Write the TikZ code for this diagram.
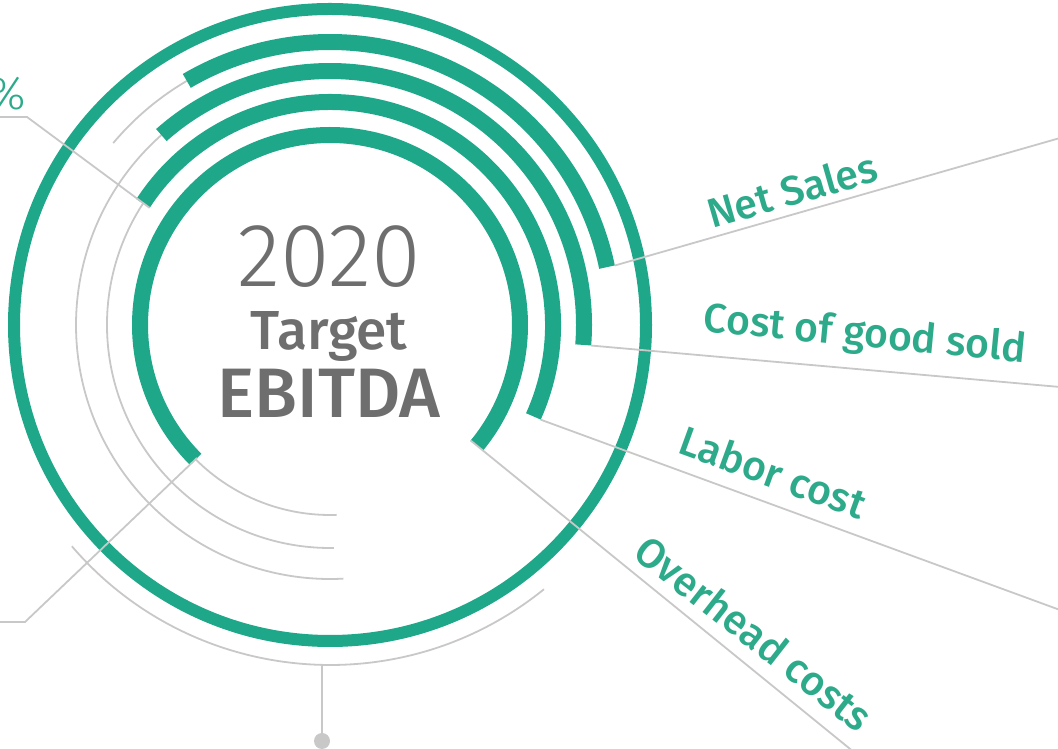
\documentclass[tikz,border=0pt]{standalone}
\usepackage{fontspec}
\setmainfont{Fira Sans}
\newfontfamily\lightf{Fira Sans Light}
\newfontfamily\medf{Fira Sans Medium}
\definecolor{ringgreen}{RGB}{30,168,137}
\definecolor{labelgreen}{RGB}{44,170,138}
\definecolor{linegray}{RGB}{200,200,200}
\definecolor{textgray}{RGB}{110,110,110}
\begin{document}
\begin{tikzpicture}[x=1pt,y=1pt,
  ring/.style={draw=ringgreen, line width=16pt, line cap=butt},
  track/.style={draw=linegray, line width=1.8pt},
  leader/.style={draw=linegray, line width=1.8pt},
  lbl/.style={text=labelgreen, inner sep=0pt, font=\medf\fontsize{41}{41}\selectfont},
  midtext/.style={anchor=base, text=textgray, inner sep=0pt},
]
\clip (0,0) rectangle (1058,749);
\begin{scope}[shift={(330,424)}]
  % grey tracks
  \draw[track] (220.6:340) arc[start angle=220.6,end angle=309,radius=340];
  \draw[track] (120.4:283) arc[start angle=120.4,end angle=140,radius=283];
  \draw[track] (131.6:254) arc[start angle=131.6,end angle=273,radius=254];
  \draw[track] (147:223) arc[start angle=147,end angle=271,radius=223];
  \draw[track] (225:190) arc[start angle=225,end angle=272,radius=190];
  % green rings
  \draw[draw=ringgreen,line width=12pt] (0,0) circle[radius=316];
  \draw[ring] (11.8:283) arc[start angle=11.8,end angle=120.4,radius=283];
  \draw[ring] (-4.5:254) arc[start angle=-4.5,end angle=131.6,radius=254];
  \draw[ring] (-24.2:223) arc[start angle=-24.2,end angle=147,radius=223];
  \draw[ring] (-39.4:190) arc[start angle=-39.4,end angle=225,radius=190];
  % leader start points
  \coordinate (bt) at (-8,-340);
  \coordinate (nsS) at (11.8:291);
  \coordinate (cgS) at (-4.5:262);
  \coordinate (lcS) at (-24.2:231);
  \coordinate (ohS) at (-39.4:182);
  \coordinate (tlS) at (147:215);
  \coordinate (blS) at (225:188);
\end{scope}
% free ends
\coordinate (nsE) at (1060,611);
\coordinate (cgE) at (1060,362);
\coordinate (lcE) at (1060,139);
\coordinate (ohE) at (860,-8);
\coordinate (tlK) at (27,632);
\coordinate (tlE) at (-2,632);
\coordinate (blK) at (25,127);
\coordinate (blE) at (-2,127);
\node[circle, fill=linegray, minimum size=16pt, inner sep=0pt] (dot) at (322,8) {};
% leaders
\draw[leader] (nsS) -- (nsE);
\draw[leader] (cgS) -- (cgE);
\draw[leader] (lcS) -- (lcE);
\draw[leader] (ohS) -- (ohE);
\draw[leader] (tlS) -- (tlK) -- (tlE);
\draw[leader] (blS) -- (blK) -- (blE);
\draw[leader] (bt) -- (dot.center);
% centre text
\node[midtext, font=\lightf\fontsize{90}{90}\selectfont] (year) at (329,462) {2020};
\node[midtext, font=\medf\fontsize{55}{55}\selectfont] (target) at (329,399) {Target};
\node[midtext, font=\medf\fontsize{70}{70}\selectfont] (ebitda) at (329,331) {EBITDA};
% labels
\node[lbl, rotate=16] (ns) at (792,559) {Net Sales};
\node[lbl, rotate=-5.5] (cg) at (865,413) {Cost of good sold};
\node[lbl, rotate=-20] (lc) at (773,277) {Labor cost};
\node[lbl, rotate=-38] (oh) at (754,116) {Overhead costs};
% cut-off labels at left edge
\node[anchor=base east, text=labelgreen, inner sep=0pt, font=\lightf\fontsize{46}{46}\selectfont] (pct) at (26,639) {0\%};
\node[anchor=base east, text=labelgreen, inner sep=0pt, font=\fontsize{82}{82}\selectfont] (two) at (4,144) {2};
\end{tikzpicture}
\end{document}
